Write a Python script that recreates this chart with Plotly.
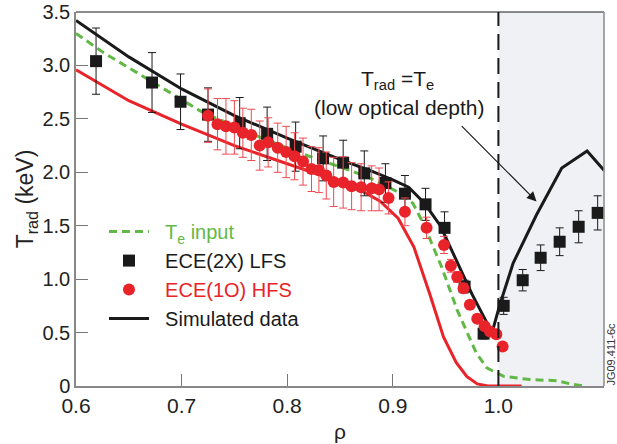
import plotly.graph_objects as go

# ---- data -------------------------------------------------------------
# Simulated radiation temperature (black solid)
sim_rho = [0.600, 0.650, 0.700, 0.750, 0.800, 0.850, 0.880, 0.900, 0.915,
           0.930, 0.945, 0.960, 0.975, 0.994, 1.001, 1.014, 1.036, 1.060,
           1.084, 1.100]
sim_T = [3.42, 3.08, 2.78, 2.53, 2.32, 2.12, 2.01, 1.93, 1.86,
         1.71, 1.50, 1.18, 0.86, 0.50, 0.75, 1.15, 1.60, 2.04,
         2.20, 2.02]

# Input electron temperature profile (green dashed)
te_rho = [0.600, 0.626, 0.680, 0.720, 0.774, 0.812, 0.859, 0.882, 0.904,
          0.919, 0.929, 0.946, 0.961, 0.979, 0.989, 1.005, 1.030, 1.055,
          1.068, 1.080]
te_T = [3.30, 3.12, 2.80, 2.56, 2.33, 2.18, 2.02, 1.93, 1.82,
        1.71, 1.52, 1.12, 0.71, 0.31, 0.17, 0.09, 0.06, 0.05,
        0.02, 0.00]

# Simulated HFS curve (red solid)
hfs_rho = [0.600, 0.650, 0.700, 0.750, 0.800, 0.850, 0.870, 0.888, 0.905,
           0.920, 0.935, 0.948, 0.960, 0.970, 0.980, 0.990, 1.022]
hfs_T = [2.96, 2.67, 2.45, 2.25, 2.08, 1.91, 1.83, 1.73, 1.57,
         1.30, 0.86, 0.46, 0.22, 0.09, 0.02, 0.00, 0.00]

# ECE(2X) LFS measurements
lfs_rho = [0.619, 0.672, 0.699, 0.725, 0.755, 0.781, 0.808, 0.834, 0.853,
           0.873, 0.893, 0.9115, 0.931, 0.949, 0.968, 0.986, 1.005, 1.023,
           1.040, 1.058, 1.076, 1.094]
lfs_T = [3.04, 2.84, 2.66, 2.54, 2.46, 2.36, 2.24, 2.13, 2.09,
         1.99, 1.90, 1.80, 1.70, 1.48, 0.93, 0.49, 0.75, 0.99,
         1.20, 1.35, 1.49, 1.62]
lfs_err = [0.31, 0.28, 0.26, 0.25, 0.24, 0.25, 0.23, 0.21, 0.21,
           0.21, 0.18, 0.17, 0.15, 0.15, 0.06, 0.05, 0.08, 0.10,
           0.12, 0.13, 0.15, 0.16]

# ECE(1O) HFS measurements
hfs_pt_rho = [0.725, 0.734, 0.742, 0.750, 0.758, 0.766, 0.774, 0.782, 0.791,
              0.799, 0.807, 0.815, 0.823, 0.830, 0.837, 0.844, 0.853, 0.861,
              0.870, 0.880, 0.887, 0.896, 0.9115, 0.932, 0.9485, 0.955, 0.961,
              0.967, 0.973, 0.980, 0.987, 0.992, 0.998, 1.004]
hfs_pt_T = [2.53, 2.45, 2.43, 2.42, 2.37, 2.35, 2.25, 2.28, 2.23,
            2.19, 2.15, 2.10, 2.03, 2.02, 1.97, 1.91, 1.905, 1.87,
            1.86, 1.85, 1.84, 1.76, 1.63, 1.48, 1.32, 1.125, 1.02,
            0.915, 0.76, 0.63, 0.56, 0.51, 0.485, 0.37]
hfs_pt_err = [0.25, 0.24, 0.26, 0.25, 0.23, 0.24, 0.23, 0.23, 0.23,
              0.24, 0.22, 0.22, 0.21, 0.21, 0.22, 0.23, 0.24, 0.22,
              0.22, 0.21, 0.20, 0.15, 0.13, 0.10, 0.08, 0.06, 0.05,
              0.045, 0.04, 0.035, 0.03, 0.03, 0.03, 0.02]

x_ticks = [0.6, 0.7, 0.8, 0.9, 1.0, 1.1]
x_ticktext = ["0.6", "0.7", "0.8", "0.9", "1.0", "1.1"]
y_ticks = [0, 0.5, 1.0, 1.5, 2.0, 2.5, 3.0, 3.5]
y_ticktext = ["0", "0.5", "1.0", "1.5", "2.0", "2.5", "3.0", "3.5"]

GREEN = "#62b846"
RED = "#e8232a"
BLACK = "#1a1a1a"
FONT = "Liberation Sans, Arial, sans-serif"
PAD = "&nbsp;&nbsp;"  # extra gap between legend symbol and label

fig = go.Figure()

fig.add_trace(go.Scatter(
    x=te_rho, y=te_T, mode="lines", legendrank=1,
    name=f"{PAD}<span style='color:{GREEN}'>T<sub>e</sub> input</span>",
    line=dict(color=GREEN, width=3, dash="8px,5px")))

fig.add_trace(go.Scatter(
    x=hfs_rho, y=hfs_T, mode="lines", showlegend=False,
    line=dict(color=RED, width=3)))

fig.add_trace(go.Scatter(
    x=sim_rho, y=sim_T, mode="lines", legendrank=4,
    name=f"{PAD}Simulated data",
    line=dict(color=BLACK, width=3)))

fig.add_trace(go.Scatter(
    x=lfs_rho, y=lfs_T, mode="markers", legendrank=2,
    name=f"{PAD}ECE(2X) LFS",
    marker=dict(symbol="square", size=12, color=BLACK),
    error_y=dict(type="data", array=lfs_err, color=BLACK,
                 thickness=1, width=4)))

fig.add_trace(go.Scatter(
    x=hfs_pt_rho, y=hfs_pt_T, mode="markers", legendrank=3,
    name=f"{PAD}<span style='color:{RED}'>ECE(1O) HFS</span>",
    marker=dict(symbol="circle", size=12, color=RED),
    error_y=dict(type="data", array=hfs_pt_err, color="#ee4a50",
                 thickness=1, width=4)))

# Edge region beyond the separatrix
fig.add_shape(type="rect", x0=1.0, x1=1.1, y0=0, y1=3.5, xref="x", yref="y",
              fillcolor="#eff1f4", line=dict(width=0), layer="below")
# Separatrix marker
fig.add_shape(type="line", x0=1.0, x1=1.0, y0=0, y1=3.5, xref="x", yref="y",
              line=dict(color=BLACK, width=2, dash="16px,8px"))
# Frame: black top edge, grey right edge
fig.add_shape(type="line", x0=0, x1=1, y0=1, y1=1,
              xref="x domain", yref="y domain",
              line=dict(color=BLACK, width=1))
fig.add_shape(type="line", x0=1, x1=1, y0=0, y1=1,
              xref="x domain", yref="y domain",
              line=dict(color="#8a8a8a", width=1.5))

fig.add_annotation(x=0.9044, y=2.86, xref="x", yref="y",
                   text="T<sub>rad</sub> =T<sub>e</sub>", showarrow=False,
                   font=dict(size=21, color=BLACK, family=FONT))
fig.add_annotation(x=0.906, y=2.605, xref="x", yref="y",
                   text="(low optical depth)", showarrow=False,
                   font=dict(size=21, color=BLACK, family=FONT))
fig.add_annotation(x=1.0361, y=1.727, ax=0.9639, ay=2.446,
                   xref="x", yref="y", axref="x", ayref="y",
                   text="", showarrow=True, arrowhead=2, arrowsize=1.6,
                   arrowwidth=1.2, arrowcolor=BLACK)
fig.add_annotation(x=1.0125, y=0.0856, xref="paper", yref="paper",
                   xanchor="center", yanchor="middle",
                   text="JG09.411-6c", showarrow=False, textangle=-90,
                   font=dict(size=11, color="#333", family=FONT))

fig.update_layout(
    width=617, height=444,
    margin=dict(l=76, r=13, t=12, b=58),
    plot_bgcolor="white", paper_bgcolor="white",
    font=dict(family=FONT, size=20, color="#222"),
    showlegend=True,
    legend=dict(x=0.053, y=0.465, xanchor="left", yanchor="top",
                bgcolor="rgba(0,0,0,0)", font=dict(size=20, color=BLACK),
                itemwidth=40, tracegroupgap=0),
    xaxis=dict(range=[0.6, 1.1], tickvals=x_ticks, ticktext=x_ticktext,
               ticks="inside", ticklen=12, tickwidth=1, tickcolor="#777",
               showline=True, linecolor="#888", linewidth=1.5,
               showgrid=False, zeroline=False, automargin=False,
               tickfont=dict(size=21),
               title=dict(text="ρ", standoff=8, font=dict(size=21))),
    yaxis=dict(range=[0, 3.5], tickvals=y_ticks, ticktext=y_ticktext,
               ticks="inside", ticklen=12, tickwidth=1, tickcolor="#777",
               showline=True, linecolor="#888", linewidth=1.5,
               showgrid=False, zeroline=False, automargin=False,
               tickfont=dict(size=20),
               title=dict(text="T<sub>rad</sub> (keV)", standoff=2,
                          font=dict(size=23))),
)

fig.write_html("out.html")
